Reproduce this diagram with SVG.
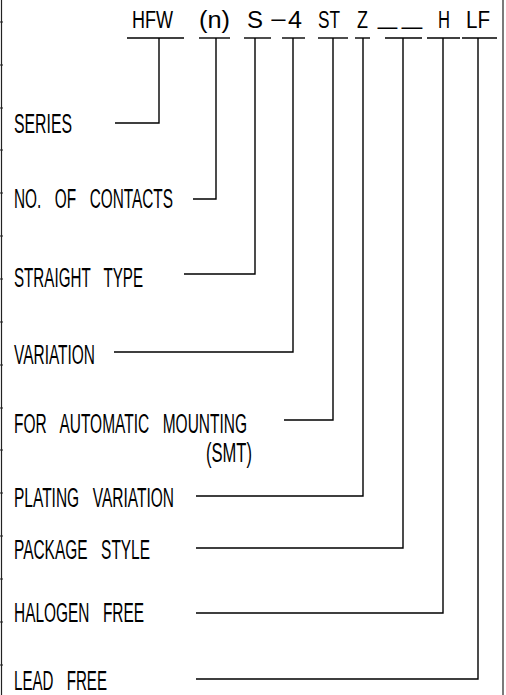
<svg xmlns="http://www.w3.org/2000/svg" width="506" height="695" viewBox="0 0 506 695">
<style>
text{font-family:"Liberation Sans",Arial,sans-serif;fill:#000;}
.lbl{font-size:27px;word-spacing:0.6em;}
.code{font-size:23px;}
.ln{stroke:#000;stroke-width:1.4;fill:none;}
.frame{stroke:#222;stroke-width:1.2;fill:none;}
</style>
<rect width="506" height="695" fill="#fff"/>
<g id="frame">
<line class="frame" x1="1.5" y1="0" x2="1.5" y2="695"/>
<line class="frame" x1="503" y1="0" x2="503" y2="695"/>
<path class="frame" d="M0 22H3M0 65H3M0 108H3M0 150H3M0 193H3M0 236H3M0 279H3M0 322H3M0 365H3M0 408H3M0 450H3M0 493H3M0 536H3M0 579H3M0 622H3M0 665H3"/>
</g>
<g id="code-hfw"><text class="code" x="132" y="28" textLength="41" lengthAdjust="spacingAndGlyphs">HFW</text><line class="ln" x1="127" y1="38" x2="184" y2="38"/></g>
<g id="code-n"><text class="code" x="199" y="28" textLength="31" lengthAdjust="spacingAndGlyphs">(n)</text><line class="ln" x1="199" y1="38" x2="230" y2="38"/></g>
<g id="code-s"><text class="code" x="247" y="28" textLength="16" lengthAdjust="spacingAndGlyphs">S</text><text class="code" x="270" y="28" textLength="17" lengthAdjust="spacingAndGlyphs">−</text><line class="ln" x1="244" y1="38" x2="271" y2="38"/></g>
<g id="code-4"><text class="code" x="288" y="28" textLength="14" lengthAdjust="spacingAndGlyphs">4</text><line class="ln" x1="282" y1="38" x2="305" y2="38"/></g>
<g id="code-st"><text class="code" x="318" y="28" textLength="22" lengthAdjust="spacingAndGlyphs">ST</text><line class="ln" x1="318" y1="38" x2="348" y2="38"/></g>
<g id="code-z"><text class="code" x="357" y="28" textLength="11" lengthAdjust="spacingAndGlyphs">Z</text><line class="ln" x1="355" y1="38" x2="370" y2="38"/></g>
<g id="code-blank"><text class="code" x="378" y="24" textLength="19" lengthAdjust="spacingAndGlyphs">_</text><text class="code" x="402" y="24" textLength="20" lengthAdjust="spacingAndGlyphs">_</text><line class="ln" x1="385" y1="38" x2="422" y2="38"/></g>
<g id="code-h"><text class="code" x="438" y="28" textLength="12" lengthAdjust="spacingAndGlyphs">H</text><line class="ln" x1="427" y1="38" x2="460" y2="38"/></g>
<g id="code-lf"><text class="code" x="466" y="28" textLength="24" lengthAdjust="spacingAndGlyphs">LF</text><line class="ln" x1="462" y1="38" x2="497" y2="38"/></g>

<g id="label-series"><text class="lbl" x="14" y="133" textLength="58" lengthAdjust="spacingAndGlyphs">SERIES</text></g>
<g id="label-contacts"><text class="lbl" x="14" y="208" textLength="159" lengthAdjust="spacingAndGlyphs">NO. OF CONTACTS</text></g>
<g id="label-straight"><text class="lbl" x="14" y="287" textLength="129" lengthAdjust="spacingAndGlyphs">STRAIGHT TYPE</text></g>
<g id="label-variation"><text class="lbl" x="14" y="364" textLength="81" lengthAdjust="spacingAndGlyphs">VARIATION</text></g>
<g id="label-smt"><text class="lbl" x="14" y="433" textLength="233" lengthAdjust="spacingAndGlyphs">FOR AUTOMATIC MOUNTING</text><text class="lbl" x="206" y="462" textLength="46" lengthAdjust="spacingAndGlyphs">(SMT)</text></g>
<g id="label-plating"><text class="lbl" x="14" y="507" textLength="160" lengthAdjust="spacingAndGlyphs">PLATING VARIATION</text></g>
<g id="label-package"><text class="lbl" x="14" y="559" textLength="136" lengthAdjust="spacingAndGlyphs">PACKAGE STYLE</text></g>
<g id="label-halogen"><text class="lbl" x="14" y="622" textLength="130" lengthAdjust="spacingAndGlyphs">HALOGEN FREE</text></g>
<g id="label-lead"><text class="lbl" x="14" y="690" textLength="93" lengthAdjust="spacingAndGlyphs">LEAD FREE</text></g>

<g id="connectors">
<path class="ln" d="M115 123H159V38"/>
<path class="ln" d="M193 199H216V38"/>
<path class="ln" d="M184 274H255V38"/>
<path class="ln" d="M114 352H293V38"/>
<path class="ln" d="M284 420H333V38"/>
<path class="ln" d="M196 496H363V38"/>
<path class="ln" d="M196 548H403V38"/>
<path class="ln" d="M196 613H443V38"/>
<path class="ln" d="M196 679H478V38"/>
</g>
</svg>
